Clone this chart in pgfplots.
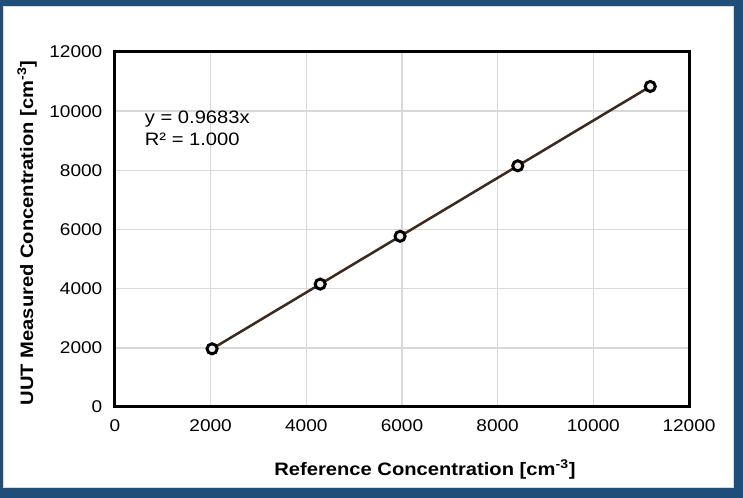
\documentclass[border=0pt]{standalone}
\usepackage{fontspec}
\setmainfont[FakeStretch=1.12]{Liberation Sans}
\usepackage{pgfplots}
\pgfplotsset{compat=1.18}
\definecolor{bgblue}{RGB}{31,78,121}
\definecolor{gridgray}{RGB}{217,217,217}
\definecolor{trend}{RGB}{62,42,28}
\newcommand\tk[1]{\mbox{\fontsize{12.75}{15}\selectfont #1}}
\begin{document}
\begin{tikzpicture}
\fill[bgblue] (0,0) rectangle (557.25pt,373.5pt);
\filldraw[fill=white,draw=black!15,line width=0.75pt] (2.25pt,7.5pt) rectangle (549.75pt,368.25pt);
\begin{axis}[at={(86.25pt,68.25pt)}, anchor=south west, scale only axis,
  width=430.5pt, height=266.25pt,
  xmin=0, xmax=12000, ymin=0, ymax=12000,
  xtick={0,2000,...,12000}, ytick={0,2000,...,12000},
  scaled ticks=false,
  xticklabels={\tk{0},\tk{2000},\tk{4000},\tk{6000},\tk{8000},\tk{10000},\tk{12000}},
  yticklabels={\tk{0},\tk{2000},\tk{4000},\tk{6000},\tk{8000},\tk{10000},\tk{12000}},
  grid=major, grid style={gridgray, line width=1.1pt},
  axis line style={black, line width=2.25pt},
  major tick length=0pt,
  yticklabel style={xshift=-6pt},
  xticklabel style={yshift=-6pt},
  xlabel={Reference Concentration [cm\textsuperscript{-3}]},
  ylabel={UUT Measured Concentration [cm\textsuperscript{-3}]},
  every axis x label/.style={at={(axis description cs:0.54,-0.175)},anchor=center,
    font=\bfseries\fontsize{13.5}{16}\selectfont},
  every axis y label/.style={at={(axis description cs:-0.153,0.49)},anchor=center,rotate=90,
    font=\bfseries\fontsize{13.5}{16}\selectfont},
  clip=false]
\addplot[trend, line width=1.9pt, mark=*, mark size=3.8pt,
  mark options={draw=black, fill=gray!15, line width=2.2pt}] coordinates {
  (2030,1966) (4290,4154) (5960,5771) (8420,8153) (11190,10835)};
\node[anchor=west, align=left, font=\fontsize{13.5}{16}\selectfont, inner sep=0pt]
  at (axis cs:620,9420) {y = 0.9683x\\R² = 1.000};
\end{axis}
\end{tikzpicture}
\end{document}
